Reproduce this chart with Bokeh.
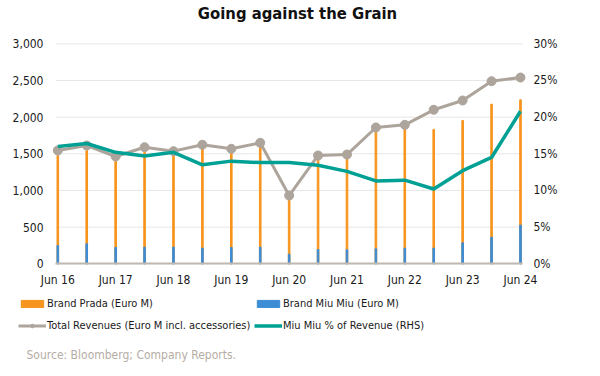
from bokeh.plotting import figure
from bokeh.models import (Range1d, LinearAxis, FixedTicker, NumeralTickFormatter,
                          Legend, LegendItem, Label)
from bokeh.embed import file_html
from bokeh.resources import INLINE

periods = ["Jun 16", "Dec 16", "Jun 17", "Dec 17", "Jun 18", "Dec 18", "Jun 19", "Dec 19",
           "Jun 20", "Dec 20", "Jun 21", "Dec 21", "Jun 22", "Dec 22", "Jun 23", "Dec 23", "Jun 24"]
prada = [1477, 1545, 1400, 1518, 1473, 1568, 1509, 1590, 886, 1445, 1445, 1795, 1850, 1832, 1955, 2177, 2236]
miumiu = [250, 272, 222, 227, 227, 213, 222, 227, 131, 195, 191, 204, 213, 213, 286, 363, 527]
total = [1545, 1613, 1463, 1590, 1536, 1623, 1568, 1650, 931, 1477, 1490, 1859, 1895, 2100, 2227, 2490, 2540]
miu_pct = [16.0, 16.4, 15.2, 14.7, 15.2, 13.5, 14.0, 13.8, 13.8, 13.45, 12.6, 11.3, 11.4, 10.2, 12.7, 14.5, 20.8]
left_ticks = [0, 500, 1000, 1500, 2000, 2500, 3000]
right_ticks = [0, 5, 10, 15, 20, 25, 30]

x = list(range(len(periods)))
FONT = "DejaVu Sans Condensed"
ORANGE = "#F7941D"
BLUE = "#3D8DD5"
GRAY = "#ADA59C"
TEAL = "#00A094"

# plot area geometry (pixels in the 600x376 canvas)
W, H = 600, 376
PL, PR, PT, PB = 55.0, 522.0, 43.3, 263.3
X0, X1 = -0.08, 16.07          # data x at plot-area edges
Y0, Y1 = 0, 3000               # left axis
R0, R1 = 0, 30                 # right axis (%)
kx = (X1 - X0) / (PR - PL)
ky = (Y1 - Y0) / (PB - PT)
kr = (R1 - R0) / (PB - PT)

p = figure(width=W, height=H, output_backend="svg", toolbar_location=None,
           x_range=Range1d(X0 - PL * kx, X1 + (W - PR) * kx),
           y_range=Range1d(Y0 - (H - PB) * ky, Y1 + PT * ky),
           min_border=0)
p.title.visible = False
p.outline_line_color = None
p.extra_y_ranges = {"pct": Range1d(R0 - (H - PB) * kr, R1 + PT * kr)}

# grid lines limited to the plot area
p.segment(x0=[X0] * len(left_ticks), x1=[X1] * len(left_ticks), y0=left_ticks, y1=left_ticks,
          line_color="#E6E6E6", line_width=1)

r_prada = p.vbar(x=x, top=prada, width=0.055, color=ORANGE)
r_miu = p.vbar(x=x, top=miumiu, width=0.055, color=BLUE)
r_tot_l = p.line(x, total, line_color=GRAY, line_width=3)
r_tot_s = p.scatter(x, total, size=9, color=GRAY)
r_pct = p.line(x, miu_pct, line_color=TEAL, line_width=3.5, y_range_name="pct")

# axes
xa = p.xaxis[0]
xa.fixed_location = 0
xa.bounds = (X0, X1)
xa.ticker = FixedTicker(ticks=[i for i in x if i % 2 == 0])
xa.major_label_overrides = {i: periods[i] for i in x if i % 2 == 0}
xa.axis_line_color = "#BFB8B0"
xa.axis_line_width = 2
xa.major_label_standoff = 9

ya = p.yaxis[0]
ya.fixed_location = X0
ya.bounds = (Y0, Y1)
ya.ticker = FixedTicker(ticks=left_ticks)
ya.formatter = NumeralTickFormatter(format="0,0")
ya.axis_line_color = None
ya.major_label_standoff = 12

ra = LinearAxis(y_range_name="pct", fixed_location=X1, bounds=(R0, R1))
ra.ticker = FixedTicker(ticks=right_ticks)
ra.major_label_overrides = {t: f"{t}%" for t in right_ticks}
ra.axis_line_color = None
ra.major_label_standoff = 11
p.add_layout(ra, "right")

for ax in [xa, ya, ra]:
    ax.major_tick_line_color = None
    ax.minor_tick_line_color = None
    ax.major_tick_out = 0
    ax.major_tick_in = 0
    ax.minor_tick_out = 0
    ax.minor_tick_in = 0
    ax.major_label_text_font = FONT
    ax.major_label_text_font_size = "12px"
    ax.major_label_text_color = "#1a1a1a"

p.xgrid.visible = False
p.ygrid.visible = False


def make_legend(items, loc):
    lg = Legend(items=items, location=loc)
    lg.label_text_font = FONT
    lg.label_text_font_size = "11px"
    lg.label_text_color = "#1a1a1a"
    lg.label_height = 14
    lg.glyph_height = 9
    lg.glyph_width = 28
    lg.label_standoff = 1
    lg.spacing = 8
    lg.padding = 0
    lg.margin = 0
    lg.border_line_color = None
    lg.background_fill_alpha = 0
    return lg


legend_a = make_legend([
    LegendItem(label="Brand Prada (Euro M)", renderers=[r_prada]),
    LegendItem(label="Total Revenues (Euro M incl. accessories)", renderers=[r_tot_l, r_tot_s]),
], (18, 44))
legend_b = make_legend([
    LegendItem(label="Brand Miu Miu (Euro M)", renderers=[r_miu]),
    LegendItem(label="Miu Miu % of Revenue (RHS)", renderers=[r_pct]),
], (254, 44))
p.add_layout(legend_a)
p.add_layout(legend_b)

title = Label(x=297, y=H - 13, x_units="screen", y_units="screen", text="Going against the Grain",
              text_font=FONT, text_font_size="16.5px", text_font_style="bold",
              text_align="center", text_baseline="middle", text_color="#111111")
p.add_layout(title)

source = Label(x=26, y=H - 354, x_units="screen", y_units="screen",
               text="Source: Bloomberg; Company Reports.",
               text_font=FONT, text_font_size="12px", text_align="left",
               text_baseline="middle", text_color="#B5ADA5")
p.add_layout(source)

open("out.html", "w").write(file_html(p, INLINE))
